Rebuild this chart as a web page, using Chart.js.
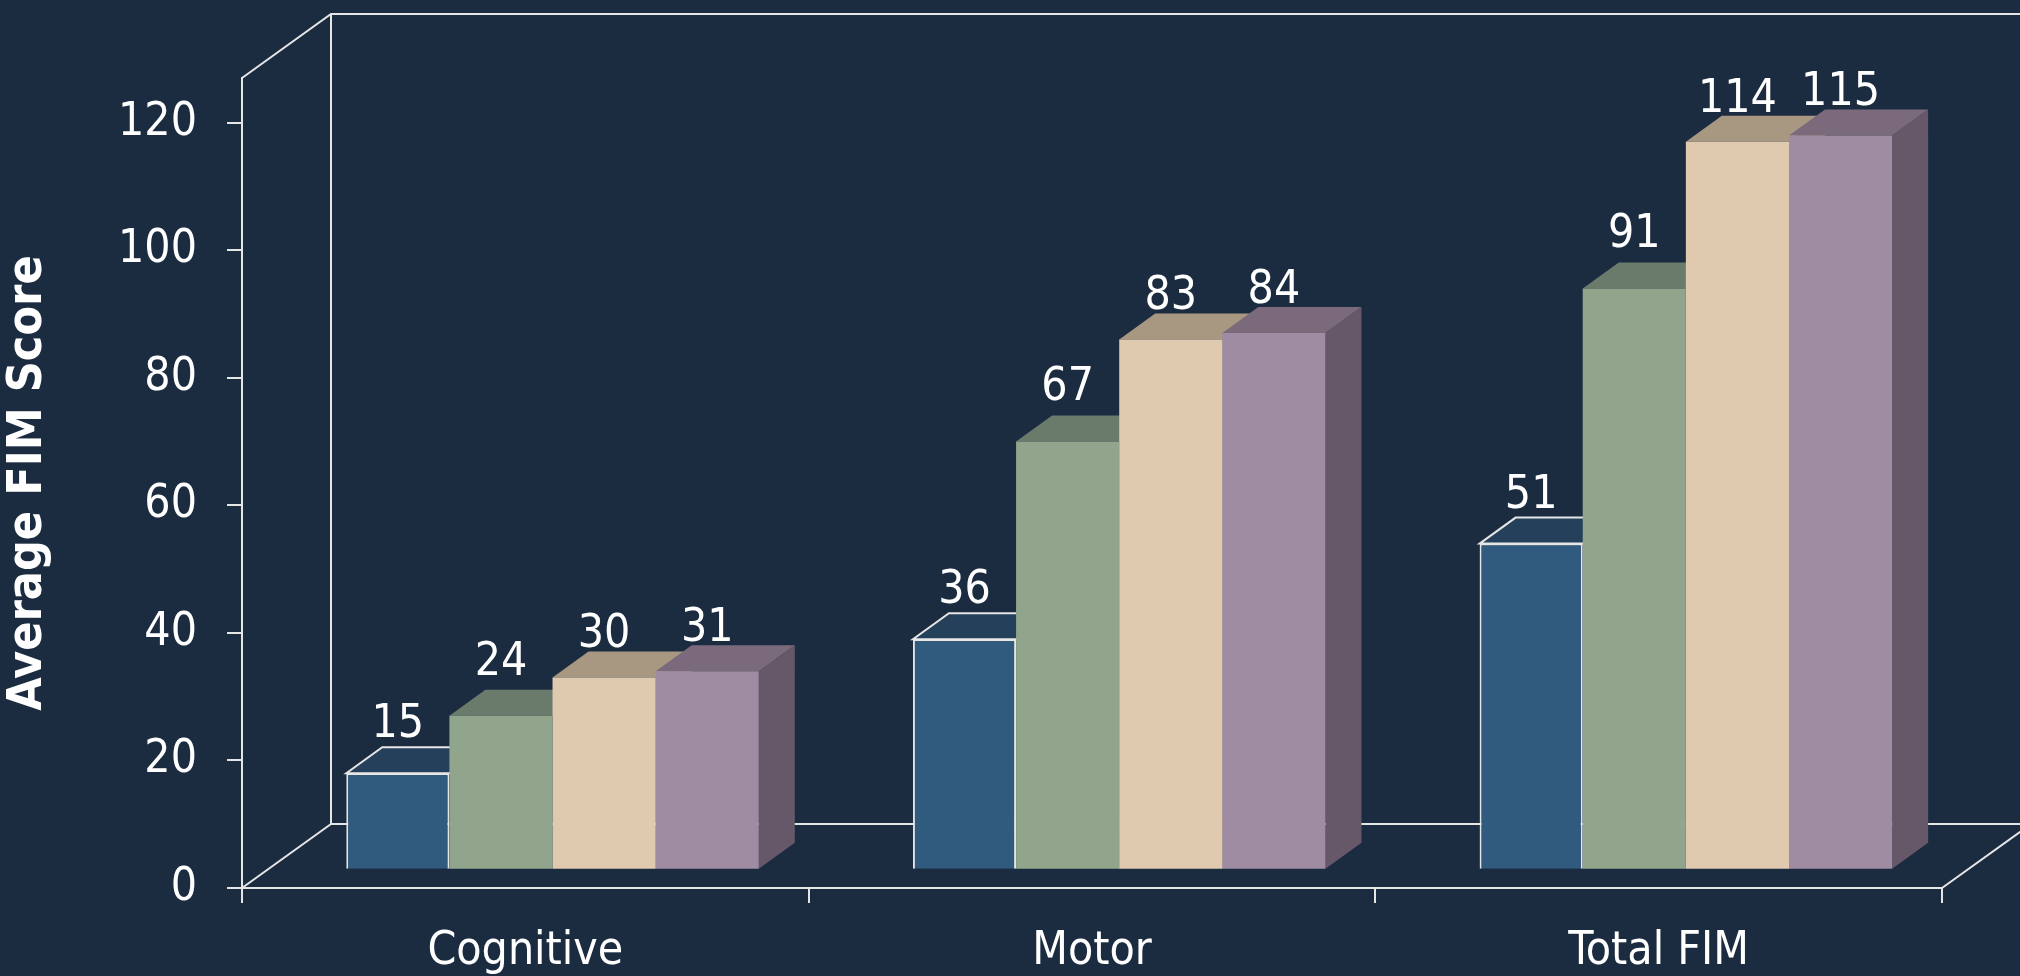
<!DOCTYPE html>
<html>
<head>
<meta charset="utf-8">
<title>Average FIM Score</title>
<script src="https://cdn.jsdelivr.net/npm/chart.js@4.4.1/dist/chart.umd.min.js"></script>
<style>
  html, body { margin: 0; padding: 0; background: #1b2c41; }
  #wrap { width: 2020px; height: 976px; }
</style>
</head>
<body>
<div id="wrap"><canvas id="fim-chart"></canvas></div>
<script>
const categories = ['Cognitive', 'Motor', 'Total FIM'];
const series1 = [15, 36, 51];
const series2 = [24, 67, 91];
const series3 = [30, 83, 114];
const series4 = [31, 84, 115];
const seriesList = [series1, series2, series3, series4];
const yTickStep = 20;

const FONT = "'DejaVu Sans Condensed', 'Liberation Sans', sans-serif";
const LINE = '#e6e6e6';
const frontColors = ['#305a7e', '#91a48c', '#dfcab0', '#9f8ca2'];
const topColors = ['#24405a', '#6b7b6b', '#a89882', '#7b6a7c'];
const sideColors = ['#1f3850', '#5e6c5e', '#8e806e', '#665868'];
// how far above the bar the value sits (px)
const labelLift = [48, 53, 42, 42];

// floor / back wall depth and bar depth (px)
const WALL_DX = 89, WALL_DY = 64;
const BAR_DX = 36, BAR_DY = 26;

const fimCtx = document.getElementById('fim-chart');

const depthPlugin = {
    id: 'depth',
    beforeDatasetsDraw(chart) {
        const ctx = chart.ctx;
        const {left, right, top, bottom} = chart.chartArea;
        ctx.save();
        ctx.strokeStyle = LINE;
        ctx.lineWidth = 2;
        ctx.beginPath();
        ctx.moveTo(left, top);
        ctx.lineTo(left + WALL_DX, top - WALL_DY);
        ctx.lineTo(right + WALL_DX, top - WALL_DY);
        ctx.moveTo(left + WALL_DX, top - WALL_DY);
        ctx.lineTo(left + WALL_DX, bottom - WALL_DY);
        ctx.lineTo(right + WALL_DX, bottom - WALL_DY);
        ctx.moveTo(left, bottom);
        ctx.lineTo(left + WALL_DX, bottom - WALL_DY);
        ctx.moveTo(right, bottom);
        ctx.lineTo(right + WALL_DX, bottom - WALL_DY);
        ctx.stroke();

        // side and top faces, the fronts are drawn by chart.js on top
        chart.data.datasets.forEach((ds, i) => {
            chart.getDatasetMeta(i).data.forEach(bar => {
                const l = bar.x - bar.width / 2;
                const r = bar.x + bar.width / 2;
                ctx.fillStyle = sideColors[i];
                ctx.beginPath();
                ctx.moveTo(r, bar.y);
                ctx.lineTo(r + BAR_DX, bar.y - BAR_DY);
                ctx.lineTo(r + BAR_DX, bar.base - BAR_DY);
                ctx.lineTo(r, bar.base);
                ctx.closePath();
                ctx.fill();

                ctx.fillStyle = topColors[i];
                ctx.beginPath();
                ctx.moveTo(l, bar.y);
                ctx.lineTo(l + BAR_DX, bar.y - BAR_DY);
                ctx.lineTo(r + BAR_DX, bar.y - BAR_DY);
                ctx.lineTo(r, bar.y);
                ctx.closePath();
                ctx.fill();
                if (ds.borderWidth > 0) {
                    ctx.strokeStyle = ds.borderColor;
                    ctx.lineWidth = ds.borderWidth;
                    ctx.stroke();
                }
            });
        });
        ctx.restore();
    },
    afterDatasetsDraw(chart) {
        const ctx = chart.ctx;
        ctx.save();
        ctx.fillStyle = '#ffffff';
        ctx.font = '46px ' + FONT;
        ctx.textAlign = 'center';
        ctx.textBaseline = 'middle';
        chart.data.datasets.forEach((ds, i) => {
            chart.getDatasetMeta(i).data.forEach((bar, j) => {
                ctx.fillText(String(seriesList[i][j]), bar.x, bar.y - labelLift[i]);
            });
        });
        ctx.restore();
    }
};

new Chart(fimCtx, {
    type: 'bar',
    data: {
        labels: categories,
        datasets: seriesList.map((s, i) => ({
            label: 'Series ' + (i + 1),
            data: s.map((v, j) => ({x: j, y: v})),
            backgroundColor: frontColors[i],
            borderColor: i === 0 ? LINE : frontColors[i],
            borderWidth: i === 0 ? 2 : 0,
            barPercentage: 1,
            categoryPercentage: 0.728,
            xAxisID: 'x2',
            yAxisID: 'y2',
        }))
    },
    options: {
        events: [],
        animation: false,
        responsive: true,
        maintainAspectRatio: false,
        layout: {
            padding: {left: 0, right: 78, top: 78, bottom: 0}
        },
        scales: {
            x: {
                type: 'category',
                offset: true,
                grid: {
                    offset: true,
                    drawOnChartArea: false,
                    tickLength: 15,
                    color: LINE,
                    lineWidth: 2,
                },
                border: {color: LINE, width: 2},
                ticks: {
                    color: '#ffffff',
                    padding: 21,
                    font: {family: FONT, size: 46},
                },
                afterFit(scale) { scale.height = 88; }
            },
            y: {
                type: 'linear',
                min: 0,
                max: 127,
                grid: {
                    drawOnChartArea: false,
                    tickLength: 15,
                    color: LINE,
                    lineWidth: 2,
                },
                border: {color: LINE, width: 2},
                ticks: {
                    stepSize: yTickStep,
                    includeBounds: false,
                    color: '#ffffff',
                    padding: 30,
                    font: {family: FONT, size: 46},
                },
                title: {
                    display: true,
                    text: 'Average FIM Score',
                    color: '#ffffff',
                    padding: {top: 0, bottom: 0},
                    font: {family: FONT, size: 48, weight: 'bold'},
                },
                afterFit(scale) { scale.width = 242; }
            },
            // bars stand a little behind the front edge of the floor
            x2: {
                type: 'linear',
                display: false,
                offset: false,
                min: -0.548,
                max: 2.452,
                ticks: {stepSize: 1, includeBounds: false},
            },
            y2: {
                type: 'linear',
                display: false,
                min: -3,
                max: 124,
                ticks: {stepSize: yTickStep, includeBounds: false},
            }
        },
        plugins: {
            legend: {display: false},
            tooltip: {enabled: false}
        }
    },
    plugins: [depthPlugin]
});
</script>
</body>
</html>
